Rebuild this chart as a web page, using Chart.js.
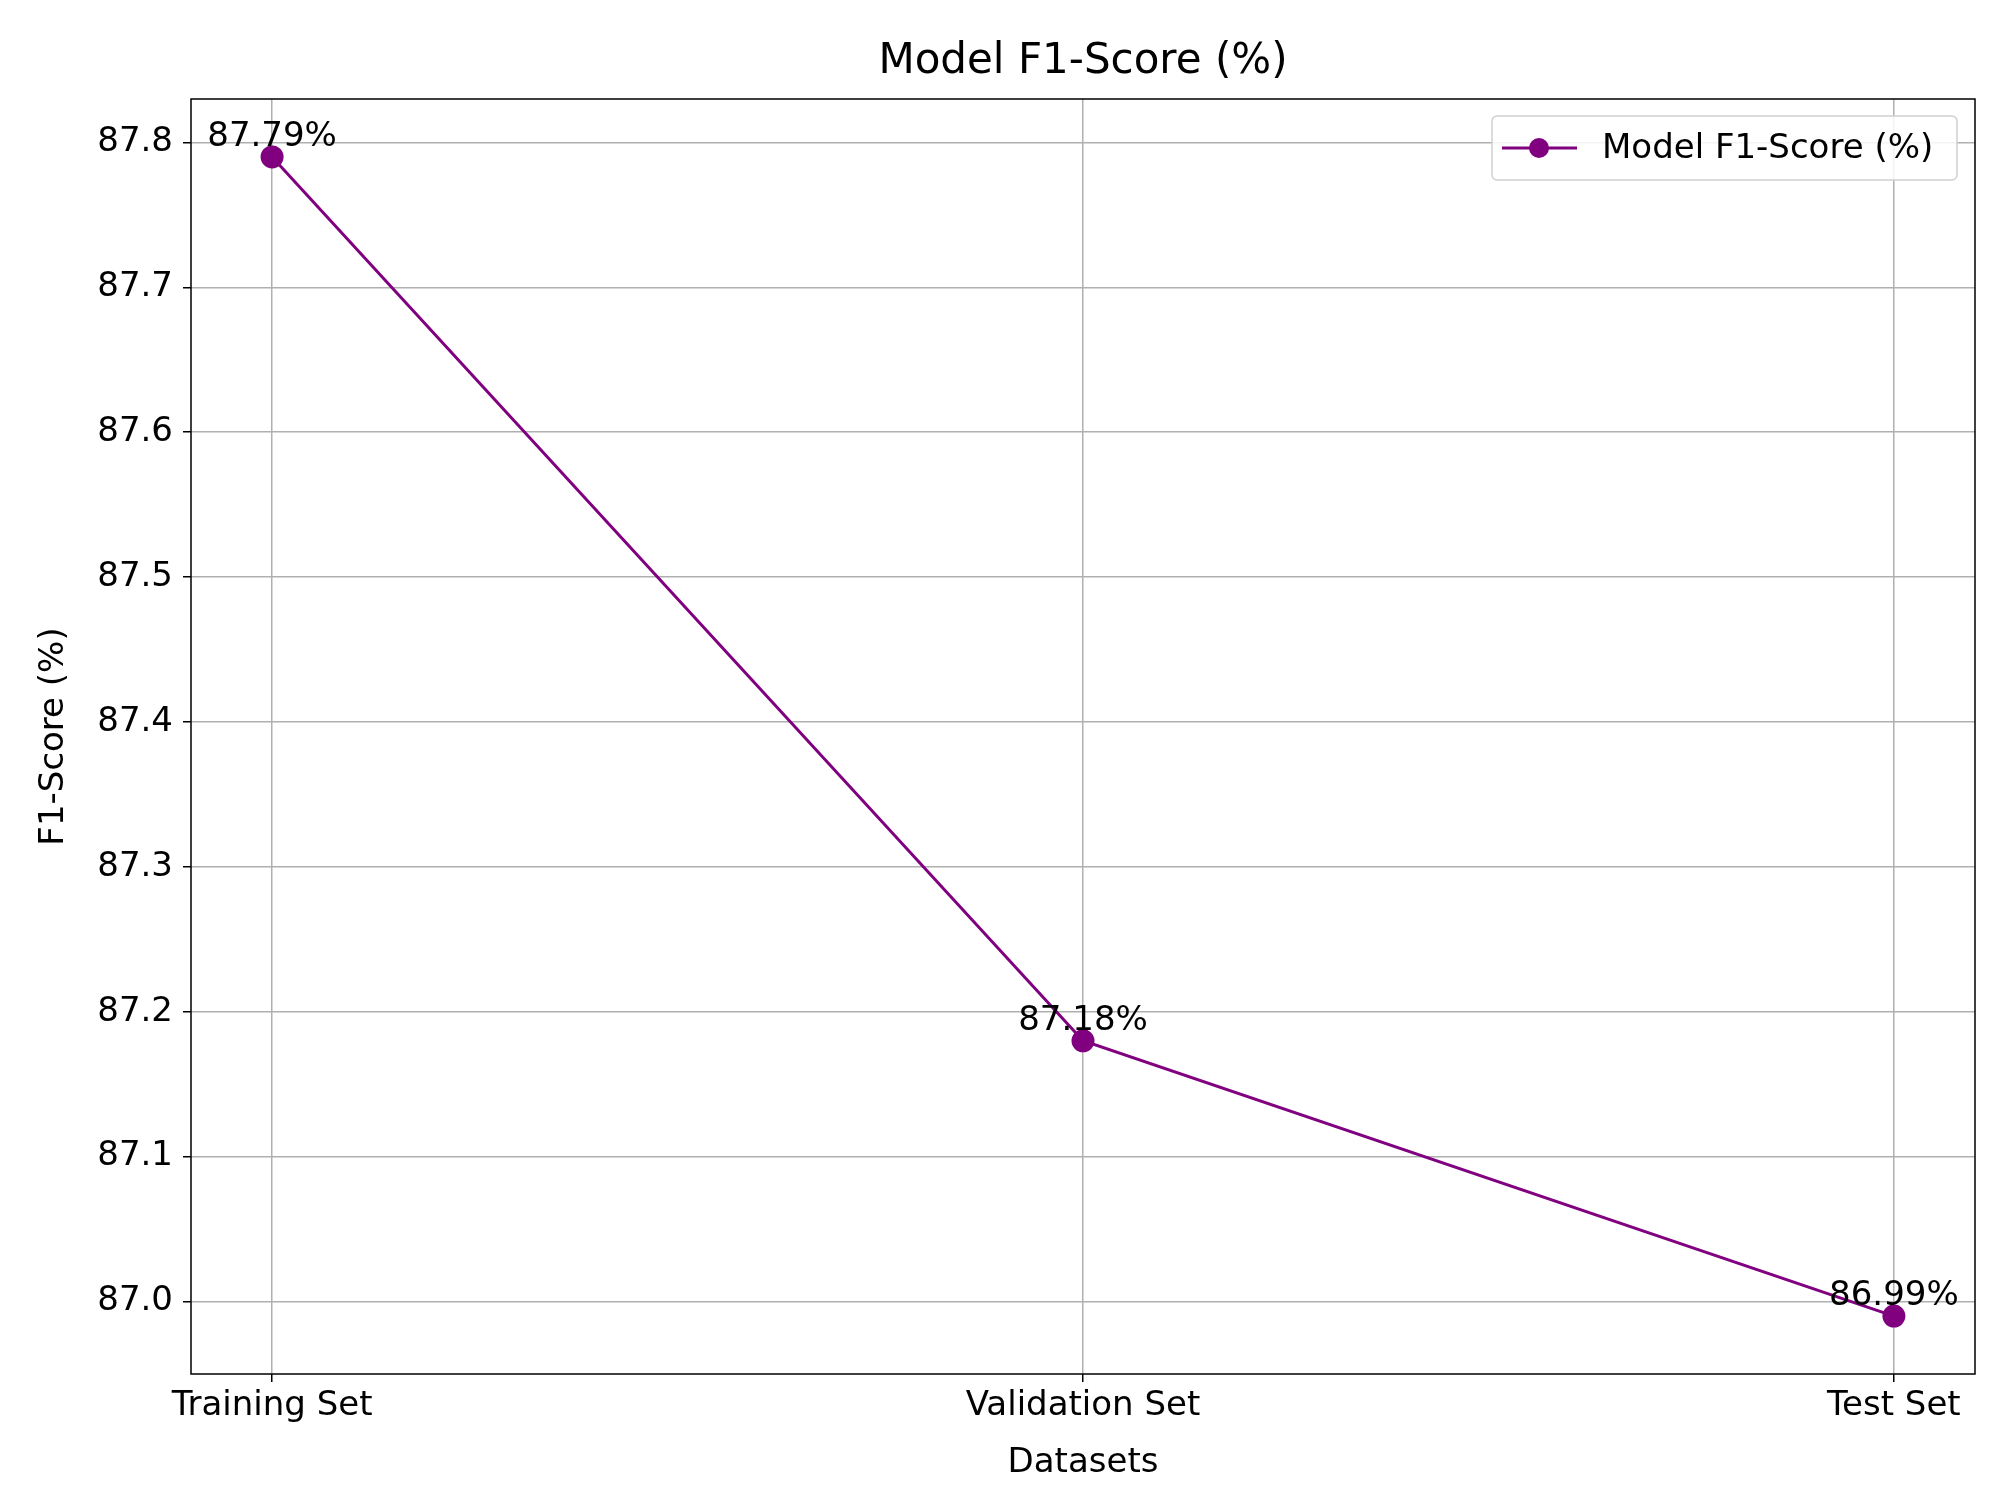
<!DOCTYPE html>
<html><head><meta charset="utf-8">
<script src="https://cdn.jsdelivr.net/npm/chart.js@4.4.1/dist/chart.umd.min.js"></script>
<style>html,body{margin:0;padding:0;background:#fff}#wrap{width:2015px;height:1510px}</style>
</head><body><div id="wrap"><canvas id="c" width="2015" height="1510"></canvas></div>
<script>
const categories = ["Training Set", "Validation Set", "Test Set"];
const f1Values = [87.79, 87.18, 86.99];
const yTicks = [87.0, 87.1, 87.2, 87.3, 87.4, 87.5, 87.6, 87.7, 87.8];
const seriesName = "Model F1-Score (%)";
const color = "#800080";
const FONT = "'DejaVu Sans', sans-serif";

const extras = {
  id: 'extras',
  afterDraw(chart) {
    const ctx = chart.ctx, a = chart.chartArea;
    ctx.save();
    ctx.strokeStyle = '#000'; ctx.lineWidth = 1.5;
    ctx.strokeRect(a.left, a.top, a.right - a.left, a.bottom - a.top);
    // title
    ctx.fillStyle = '#000'; ctx.font = "42px " + FONT;
    ctx.textAlign = 'center'; ctx.textBaseline = 'middle';
    ctx.fillText(seriesName, (a.left + a.right) / 2, 62);
    // data labels
    const meta = chart.getDatasetMeta(0);
    ctx.font = "34px " + FONT;
    meta.data.forEach((p, i) => ctx.fillText(f1Values[i].toFixed(2) + '%', p.x, p.y - 20));
    // legend
    const bx = 1492, by = 116, bw = 465, bh = 64;
    ctx.fillStyle = 'rgba(255,255,255,0.85)';
    ctx.strokeStyle = '#d0d0d0'; ctx.lineWidth = 1.5;
    ctx.beginPath(); ctx.roundRect(bx, by, bw, bh, 5); ctx.fill(); ctx.stroke();
    const ly = by + bh / 2;
    ctx.strokeStyle = color; ctx.lineWidth = 3;
    ctx.beginPath(); ctx.moveTo(1502, ly); ctx.lineTo(1577, ly); ctx.stroke();
    ctx.fillStyle = color; ctx.beginPath(); ctx.arc(1539, ly, 10, 0, Math.PI * 2); ctx.fill();
    ctx.fillStyle = '#000'; ctx.textAlign = 'left';
    ctx.fillText(seriesName, 1602, ly + 1);
    ctx.restore();
  }
};

new Chart(document.getElementById('c'), {
  type: 'line',
  data: { datasets: [{
    label: seriesName,
    data: f1Values.map((v, i) => ({ x: i, y: v })),
    borderColor: color, backgroundColor: color, borderWidth: 3,
    pointRadius: 10, pointHoverRadius: 10, tension: 0
  }]},
  options: {
    responsive: false, animation: false, devicePixelRatio: 1,
    layout: { padding: { left: 0, right: 40, top: 99, bottom: 0 } },
    plugins: { legend: { display: false }, tooltip: { enabled: false }, title: { display: false } },
    scales: {
      x: {
        type: 'linear', min: -0.1, max: 2.1,
        afterBuildTicks: s => { s.ticks = categories.map((c, i) => ({ value: i })); },
        afterFit: s => { s.height = 136; },
        ticks: { callback: v => categories[v], color: '#000', font: { family: FONT, size: 34 }, padding: 4, maxRotation: 0 },
        grid: { color: '#b0b0b0', lineWidth: 1.5, tickLength: 8, tickColor: '#000' },
        border: { display: false },
        title: { display: true, text: 'Datasets', color: '#000', font: { family: FONT, size: 34 }, padding: { top: 0, bottom: 26 } }
      },
      y: {
        min: 86.95, max: 87.83,
        afterBuildTicks: s => { s.ticks = yTicks.map(v => ({ value: v })); },
        afterFit: s => { s.width = 191; },
        ticks: { callback: v => Number(v).toFixed(1), color: '#000', font: { family: FONT, size: 34 }, padding: 10 },
        grid: { color: '#b0b0b0', lineWidth: 1.5, tickLength: 8, tickColor: '#000' },
        border: { display: false },
        title: { display: true, text: 'F1-Score (%)', color: '#000', font: { family: FONT, size: 34 }, padding: { top: 34, bottom: 0 } }
      }
    }
  },
  plugins: [extras]
});
</script></body></html>
